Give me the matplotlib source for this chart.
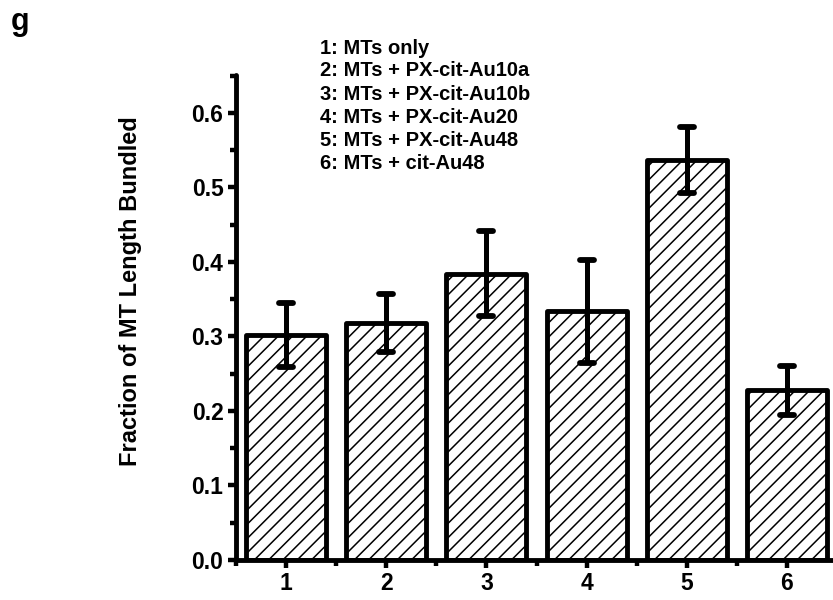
import matplotlib
matplotlib.use("Agg")
import matplotlib.pyplot as plt
import matplotlib.hatch as mhatch
from matplotlib.markers import MarkerStyle
from matplotlib.ticker import MultipleLocator, FixedLocator, FormatStrFormatter

# single-slash hatch with spacing matching the reference (~14 px)
_orig_ne_init = mhatch.NorthEastHatch.__init__
def _ne_init(self, hatch, density):
    _orig_ne_init(self, hatch, density)
    if hatch.count('/') == 1 and self.num_lines:
        self.num_lines = 14
        self.num_vertices = (self.num_lines + 1) * 2
mhatch.NorthEastHatch.__init__ = _ne_init

plt.rcParams['font.family'] = ['Liberation Sans', 'DejaVu Sans']
plt.rcParams['font.weight'] = 'bold'
plt.rcParams['hatch.linewidth'] = 1.1

categories = [1, 2, 3, 4, 5, 6]
values = [0.302, 0.318, 0.384, 0.334, 0.537, 0.228]
errors = [0.043, 0.039, 0.057, 0.069, 0.044, 0.033]
legend_lines = ["1: MTs only", "2: MTs + PX-cit-Au10a", "3: MTs + PX-cit-Au10b",
                "4: MTs + PX-cit-Au20", "5: MTs + PX-cit-Au48", "6: MTs + cit-Au48"]
ylabel = "Fraction of MT Length Bundled"

fig = plt.figure(figsize=(8.33, 6.0), dpi=100)
W, H = 833, 600
ax = fig.add_axes([236 / W, (H - 560) / H, 1 - 236 / W, (560 - 75) / H])

ax.bar(categories, values, width=0.8, color='white', edgecolor='black',
       linewidth=3.5, hatch='/', zorder=2, joinstyle='round')
eb = ax.errorbar(categories, values, yerr=errors, fmt='none', ecolor='black',
                 elinewidth=3.6, capsize=5, capthick=4.2, zorder=3)
for cl in eb[1]:
    cl.set_marker(MarkerStyle('_', capstyle='round'))

ax.set_xlim(0.5, 6.46)
ax.set_ylim(0, 0.651)
ax.spines['top'].set_visible(False)
ax.spines['right'].set_visible(False)
for s in ('left', 'bottom'):
    ax.spines[s].set_linewidth(3.5)
    ax.spines[s].set_capstyle('round')

ax.xaxis.set_major_locator(FixedLocator(categories))
ax.xaxis.set_minor_locator(FixedLocator([0.5, 1.5, 2.5, 3.5, 4.5, 5.5]))
ax.yaxis.set_major_locator(MultipleLocator(0.1))
ax.yaxis.set_minor_locator(MultipleLocator(0.05))
ax.yaxis.set_major_formatter(FormatStrFormatter('%.1f'))
ax.tick_params(which='major', length=6, width=3.2, labelsize=16.5, pad=3)
ax.tick_params(which='minor', length=4, width=3.2)
for lab in ax.get_xticklabels() + ax.get_yticklabels():
    lab.set_fontweight('bold')

fig.text(130 / W, 1 - 291 / H, ylabel, rotation=90, ha='center', va='center',
         fontsize=17, fontweight='bold')
fig.text(11 / W, 1 - 22 / H, "g", ha='left', va='center', fontsize=22, fontweight='bold')

y0 = 48
for i, t in enumerate(legend_lines):
    fig.text(320 / W, 1 - (y0 + i * 23) / H, t, ha='left', va='center',
             fontsize=14.5, fontweight='bold')

fig.savefig("out.png", dpi=100)
